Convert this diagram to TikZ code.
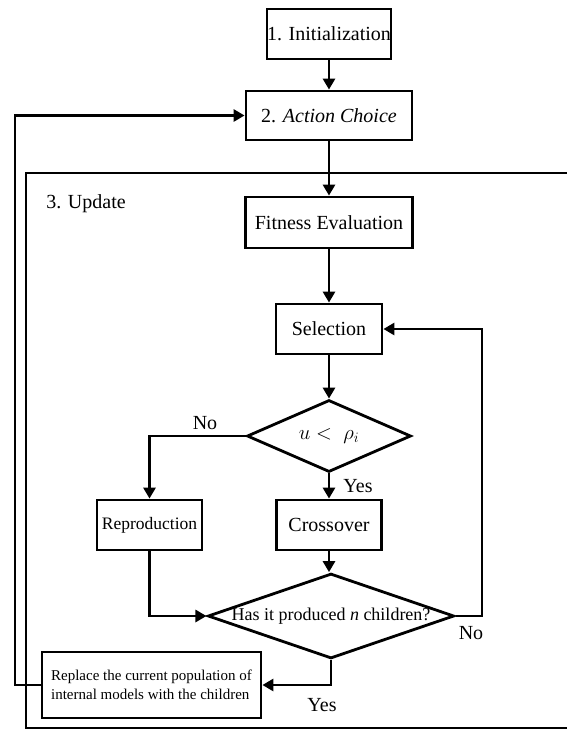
\documentclass[tikz,border=0pt]{standalone}
\usepackage{fontspec}
\setmainfont{Liberation Serif}
\usetikzlibrary{arrows.meta,shapes.geometric}
\begin{document}
\begin{tikzpicture}[x=1pt, y=-1pt, line width=2.8pt,
        box/.style={draw, rectangle, inner sep=0pt, font=\fontsize{20}{22}\selectfont},
        decision/.style={draw, diamond, inner sep=0pt, font=\fontsize{20}{22}\selectfont},
        flow/.style={-{Triangle[length=11pt,width=12pt]}},
        lbl/.style={font=\fontsize{20}{22}\selectfont}]
            \useasboundingbox (0, 0) rectangle (566, 729);
            %\draw[help lines] (0, 0) grid[step=50] (566, 729);
            % frame of the update step
            \draw (580, 173)--(26, 173)--(26, 728)--(580, 728);
            \node[lbl] (upd) at (86, 204) {3. Update};
            \node[box, minimum width=124, minimum height=50] (init) at (329, 34) {1. Initialization};
            \node[box, minimum width=166, minimum height=49] (act) at (329, 115.5) {2. \textit{Action Choice}};
            \node[box, minimum width=167, minimum height=51] (fit) at (329, 222.5) {Fitness Evaluation};
            \node[box, minimum width=106, minimum height=50] (sel) at (329, 329) {Selection};
            \node[decision, aspect=2.28, minimum width=164, minimum height=72] (rho) at (329, 436) {$u <\;\rho_{i}$};
            \node[box, minimum width=105, minimum height=50, font=\fontsize{17.5}{20}\selectfont] (rep) at (149.5, 525) {Reproduction};
            \node[box, minimum width=105, minimum height=50] (cro) at (329, 525) {Crossover};
            \node[decision, aspect=2.9, minimum width=243, minimum height=84, font=\fontsize{18}{20}\selectfont] (nch) at (331, 616) {Has it produced \textit{n} children?};
            \node[box, minimum width=219, minimum height=66, align=left, font=\fontsize{15}{19}\selectfont] (repl) at (151.5, 685)
                {Replace the current population of\\internal models with the children};
            \coordinate (back) at (482, 616);
            \coordinate (loop) at (15, 685);
            \draw[flow] (init)--(act);
            \draw[flow] (act)--(fit);
            \draw[flow] (fit)--(sel);
            \draw[flow] (sel)--(rho);
            \draw[flow] (rho.west)-|(rep.north);
            \node[lbl] at (205, 423) {No};
            \draw[flow] (rho)--(cro);
            \node[lbl] at (358, 486) {Yes};
            \draw[flow] (cro)--(cro|-nch.north);
            \draw[flow] (rep.south)|-(nch.west);
            \draw[flow] (nch.east)--(back)|-(sel.east);
            \node[lbl] at (471, 633) {No};
            \draw[flow] (nch.south)|-(repl.east);
            \node[lbl] at (322, 705) {Yes};
            \draw[flow] (repl.west)--(loop)|-(act.west);
        \end{tikzpicture}
\end{document}
